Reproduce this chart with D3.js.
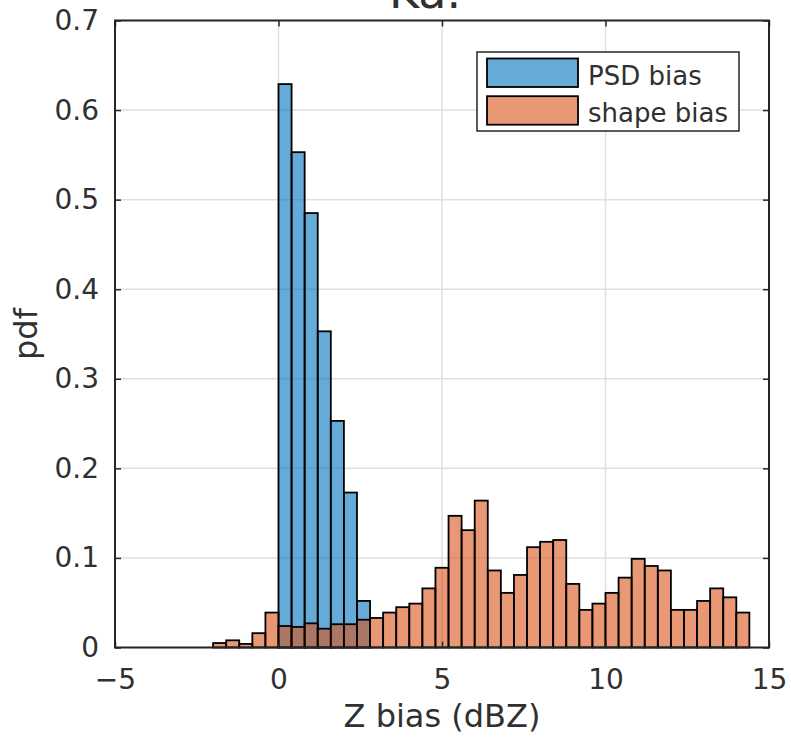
<!DOCTYPE html>
<html>
<head>
  <meta charset="utf-8">
  <title>Ka. Z bias pdf</title>
  <style>
    body { margin: 0; background: #fff; }
    text { font-family: "DejaVu Sans", sans-serif; fill: #303030; }
  </style>
</head>
<body>
  <script src="https://cdn.jsdelivr.net/npm/d3@7"></script>
  <script>
    // histogram bins (left edges, dBZ) and pdf values
    var binWidth = 0.4;

    var psdBins = [0.0, 0.4, 0.8, 1.2, 1.6, 2.0, 2.4];
    var psdPdf  = [0.629, 0.553, 0.485, 0.353, 0.253, 0.173, 0.052];

    var shapeBins = [-2.0, -1.6, -1.2, -0.8, -0.4,
                     0.0, 0.4, 0.8, 1.2, 1.6, 2.0, 2.4, 2.8, 3.2, 3.6,
                     4.0, 4.4, 4.8, 5.2, 5.6, 6.0, 6.4, 6.8, 7.2, 7.6,
                     8.0, 8.4, 8.8, 9.2, 9.6, 10.0, 10.4, 10.8, 11.2, 11.6,
                     12.0, 12.4, 12.8, 13.2, 13.6, 14.0];
    var shapePdf  = [0.005, 0.008, 0.004, 0.016, 0.039,
                     0.024, 0.023, 0.027, 0.021, 0.026, 0.026, 0.031, 0.033, 0.039, 0.045,
                     0.049, 0.066, 0.089, 0.147, 0.131, 0.164, 0.086, 0.061, 0.081, 0.112,
                     0.118, 0.120, 0.071, 0.042, 0.049, 0.061, 0.078, 0.099, 0.091, 0.086,
                     0.042, 0.042, 0.052, 0.066, 0.056, 0.039];

    var xTicks = [-5, 0, 5, 10, 15];
    var yTicks = [0, 0.1, 0.2, 0.3, 0.4, 0.5, 0.6, 0.7];

    var seriesNames  = ["PSD bias", "shape bias"];
    var seriesColors = ["#0072BD", "#D95319"];

    // size and margins
    var W = 791, H = 745;
    var margin = {left: 115, right: 22, top: 20.5, bottom: 97.5};
    var width = W - margin.left - margin.right,
        height = H - margin.top - margin.bottom;

    var svg = d3.select("body").append("svg")
      .attr("width", W).attr("height", H);

    var x = d3.scaleLinear().domain([-5, 15]).range([0, width]);
    var y = d3.scaleLinear().domain([0, 0.7]).range([height, 0]);

    var g = svg.append("g")
      .attr("transform", "translate(" + margin.left + "," + margin.top + ")");

    // grid
    g.append("g").selectAll("line").data(xTicks).enter().append("line")
      .attr("x1", d => x(d)).attr("x2", d => x(d))
      .attr("y1", 0).attr("y2", height)
      .attr("stroke", "#dfdfdf").attr("stroke-width", 1.5);
    g.append("g").selectAll("line").data(yTicks).enter().append("line")
      .attr("x1", 0).attr("x2", width)
      .attr("y1", d => y(d)).attr("y2", d => y(d))
      .attr("stroke", "#dfdfdf").attr("stroke-width", 1.5);

    // bars
    function drawHist(bins, vals, color) {
      g.append("g").selectAll("rect")
        .data(bins.map((b, i) => ({x0: b, v: vals[i]})))
        .enter().append("rect")
        .attr("x", d => x(d.x0))
        .attr("width", d => x(d.x0 + binWidth) - x(d.x0))
        .attr("y", d => y(d.v))
        .attr("height", d => y(0) - y(d.v))
        .attr("fill", color)
        .attr("fill-opacity", 0.6)
        .attr("stroke", "#000")
        .attr("stroke-width", 1.8);
    }
    drawHist(psdBins, psdPdf, seriesColors[0]);
    drawHist(shapeBins, shapePdf, seriesColors[1]);

    // axes: bottom/left with labels, top/right just ticks (box on)
    var tick = 6;
    var ax = d3.axisBottom(x).tickValues(xTicks).tickSizeInner(-tick).tickSizeOuter(0)
      .tickPadding(22).tickFormat(d => d < 0 ? "\u2212" + Math.abs(d) : d);
    var ay = d3.axisLeft(y).tickValues(yTicks).tickSizeInner(-tick).tickSizeOuter(0)
      .tickPadding(16).tickFormat(d3.format("~g"));

    var gx = g.append("g").attr("transform", "translate(0," + height + ")").call(ax);
    var gy = g.append("g").call(ay);
    var gt = g.append("g").call(d3.axisTop(x).tickValues(xTicks).tickSizeInner(-tick).tickSizeOuter(0).tickFormat(""));
    var gr = g.append("g").attr("transform", "translate(" + width + ",0)")
      .call(d3.axisRight(y).tickValues(yTicks).tickSizeInner(-tick).tickSizeOuter(0).tickFormat(""));

    [gx, gy, gt, gr].forEach(function (a) {
      a.select(".domain").remove();
      a.selectAll("line").attr("stroke", "#262626").attr("stroke-width", 1.5);
      a.selectAll("text").attr("font-size", 28).attr("font-family", "DejaVu Sans")
        .attr("fill", "#303030");
    });

    // frame
    g.append("rect").attr("width", width).attr("height", height)
      .attr("fill", "none").attr("stroke", "#262626").attr("stroke-width", 2);

    // axis labels
    svg.append("text")
      .attr("x", margin.left + width / 2).attr("y", 727)
      .attr("text-anchor", "middle").attr("font-size", 32)
      .text("Z bias (dBZ)");
    svg.append("text")
      .attr("transform", "translate(37," + (margin.top + height / 2) + ") rotate(-90)")
      .attr("text-anchor", "middle").attr("font-size", 32)
      .text("pdf");

    // title (mostly off the top of the picture, as in the original)
    svg.append("text")
      .attr("x", 425).attr("y", 8)
      .attr("text-anchor", "middle").attr("font-size", 46)
      .attr("fill", "#000")
      .text("Ka.");

    // legend
    var lg = svg.append("g").attr("transform", "translate(477,52)");
    lg.append("rect").attr("width", 262).attr("height", 79)
      .attr("fill", "#fff").attr("stroke", "#262626").attr("stroke-width", 1.5);
    seriesNames.forEach(function (name, i) {
      lg.append("rect")
        .attr("x", 10).attr("y", 6.5 + i * 37.7)
        .attr("width", 91).attr("height", 28.5)
        .attr("fill", seriesColors[i]).attr("fill-opacity", 0.6)
        .attr("stroke", "#000").attr("stroke-width", 1.8);
      lg.append("text")
        .attr("x", 111).attr("y", 32.5 + i * 37.5)
        .attr("font-size", 26)
        .text(name);
    });
  </script>
</body>
</html>
